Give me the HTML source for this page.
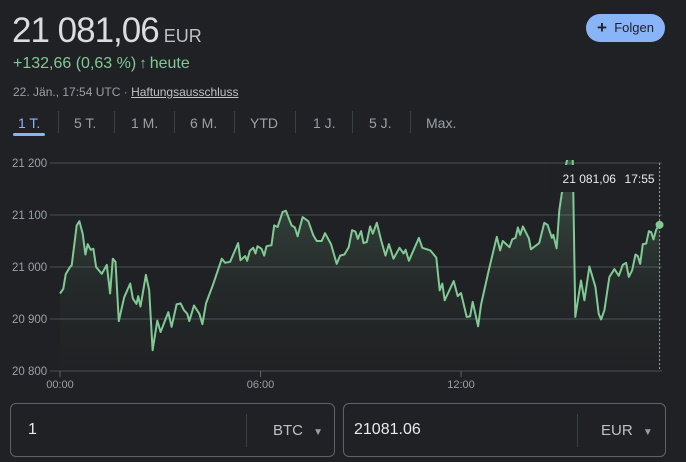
<!DOCTYPE html>
<html><head><meta charset="utf-8">
<style>
body{margin:0;width:686px;height:462px;background:#202124;overflow:hidden;font-family:"Liberation Sans",Arial,sans-serif;color:#bdc1c6;position:relative}
.abs{position:absolute}
.tab{position:absolute;top:115px;font-size:14px;color:#9aa0a6}
.sep{position:absolute;top:111px;width:1px;height:22px;background:#3c4043}
.box{position:absolute;top:403px;height:52px;border:1px solid #5f6368;border-radius:6px}
</style></head><body>
<div class="abs" style="left:12px;top:11px;font-size:35px;color:#dadce0;letter-spacing:-1px">21 081,06<span style="font-size:18px;color:#bdc1c6;margin-left:5px;letter-spacing:0">EUR</span></div>
<div class="abs" style="left:13px;top:55px;font-size:16px;color:#81c995">+132,66 (0,63 %)<span style="font-size:15px;margin:0 3px">↑</span>heute</div>
<div class="abs" style="left:13px;top:85px;font-size:12px;color:#9aa0a6">22. Jän., 17:54 UTC · <span style="text-decoration:underline;color:#bdc1c6">Haftungsausschluss</span></div>
<div class="abs" style="left:586px;top:14px;width:79px;height:28px;border-radius:14px;background:#8ab4f8;color:#202124;font-size:13px;line-height:28px;text-align:center"><b style="font-size:17px;vertical-align:-1px">+</b>&nbsp; Folgen</div>
<div class="tab" style="left:18px;color:#8ab4f8">1 T.</div>
<div class="abs" style="left:13px;top:133px;width:32px;height:3px;border-radius:2px;background:#8ab4f8"></div>
<div class="sep" style="left:58px"></div>
<div class="tab" style="left:74px">5 T.</div>
<div class="sep" style="left:114px"></div>
<div class="tab" style="left:131px">1 M.</div>
<div class="sep" style="left:174px"></div>
<div class="tab" style="left:190px">6 M.</div>
<div class="sep" style="left:234px"></div>
<div class="tab" style="left:250px">YTD</div>
<div class="sep" style="left:295px"></div>
<div class="tab" style="left:313px">1 J.</div>
<div class="sep" style="left:352px"></div>
<div class="tab" style="left:369px">5 J.</div>
<div class="sep" style="left:410px"></div>
<div class="tab" style="left:426px">Max.</div>

<svg class="abs" style="left:0;top:0" width="686" height="400" id="chart">
<defs><linearGradient id="g" x1="0" y1="0" x2="0" y2="1"><stop offset="0" stop-color="#81c995" stop-opacity="0.28"/><stop offset="0.6" stop-color="#81c995" stop-opacity="0.05"/><stop offset="1" stop-color="#81c995" stop-opacity="0"/></linearGradient>
<clipPath id="cp"><rect x="0" y="160" width="686" height="215"/></clipPath></defs>
<g id="grid"></g><g id="series" clip-path="url(#cp)"></g><g id="over"></g>
</svg>

<div class="box" style="left:10px;width:323px">
 <div class="abs" style="left:17px;top:17px;font-size:16px;color:#e8eaed">1</div>
 <div class="abs" style="left:235px;top:10px;width:1px;height:33px;background:#3c4043"></div>
 <div class="abs" style="left:262px;top:18px;font-size:15px;color:#bdc1c6">BTC <span style="font-size:10px;margin-left:6px;color:#9aa0a6">▼</span></div>
</div>
<div class="box" style="left:343px;width:321px">
 <div class="abs" style="left:10px;top:17px;font-size:16px;color:#e8eaed">21081.06</div>
 <div class="abs" style="left:233px;top:10px;width:1px;height:33px;background:#3c4043"></div>
 <div class="abs" style="left:257px;top:18px;font-size:15px;color:#bdc1c6">EUR <span style="font-size:10px;margin-left:6px;color:#9aa0a6">▼</span></div>
</div>

<script>
const hours=[0,0.1,0.17,0.3,0.35,0.5,0.58,0.68,0.76,0.83,0.92,1.0,1.08,1.25,1.4,1.5,1.58,1.66,1.76,1.92,2.1,2.18,2.29,2.34,2.41,2.57,2.67,2.77,2.91,3.01,3.24,3.34,3.49,3.61,3.71,3.81,3.87,4.01,4.17,4.26,4.37,4.59,4.84,4.94,5.09,5.33,5.4,5.54,5.6,5.68,5.78,5.85,5.91,6.03,6.11,6.18,6.33,6.41,6.51,6.66,6.76,6.93,7.03,7.11,7.26,7.43,7.58,7.68,7.83,7.93,8.11,8.28,8.38,8.51,8.64,8.74,8.84,8.91,9.01,9.08,9.18,9.28,9.36,9.48,9.61,9.74,9.84,9.98,10.16,10.28,10.34,10.44,10.74,10.84,11.08,11.26,11.36,11.44,11.51,11.78,11.9,12.0,12.17,12.27,12.35,12.51,12.6,12.83,13.07,13.17,13.25,13.45,13.53,13.63,13.7,13.77,13.85,14.03,14.09,14.34,14.49,14.59,14.72,14.76,14.86,14.94,15.14,15.2,15.34,15.42,15.59,15.69,15.84,16.02,16.12,16.19,16.29,16.44,16.59,16.72,16.84,16.94,17.02,17.12,17.22,17.29,17.36,17.44,17.54,17.62,17.69,17.76,17.84,17.94];
const prices=[20949,20958,20986,21000,21003,21080,21088,21064,21024,21044,21033,21035,21000,20987,21004,20949,21016,21010,20896,20942,20968,20939,20929,20944,20924,20985,20955,20840,20897,20875,20913,20885,20928,20930,20917,20910,20896,20926,20910,20890,20930,20968,21016,21008,21010,21046,21013,21021,21012,21031,21037,21026,21040,21035,21022,21040,21042,21080,21077,21106,21108,21080,21076,21059,21096,21088,21061,21050,21050,21065,21044,21006,21022,21024,21038,21071,21068,21054,21069,21046,21048,21078,21064,21085,21051,21022,21044,21016,21037,21026,21033,21012,21056,21037,21032,21018,20955,20968,20936,20973,20944,20950,20904,20905,20933,20886,20928,20994,21058,21032,21050,21038,21053,21056,21076,21062,21078,21055,21034,21046,21085,21081,21056,21062,21036,21109,21196,21215,21215,20904,20974,20936,21001,20962,20910,20899,20917,20981,20996,20983,21004,21008,20981,20994,21024,21021,21006,21044,21045,21069,21067,21053,21072,21081.06];
const yTicks=[20800,20900,21000,21100,21200];
const yTickLabels=["20 800","20 900","21 000","21 100","21 200"];
const xTicks=[0,6,12];
const xTickLabels=["00:00","06:00","12:00"];
const tipPrice="21 081,06";
const tipTime="17:55";

const X=h=>60+h*33.42;
const Y=v=>371-(v-20800)*0.52;
const NS="http://www.w3.org/2000/svg";
function mk(tag,attrs,parent){const e=document.createElementNS(NS,tag);for(const k in attrs)e.setAttribute(k,attrs[k]);parent.appendChild(e);return e;}
const grid=document.getElementById('grid'),ser=document.getElementById('series'),over=document.getElementById('over');
yTicks.forEach((v,i)=>{
 const l=mk('line',{x1:50,x2:662,y1:Y(v),y2:Y(v),stroke:'#3c4043','stroke-width':1.5},grid);
 
 
 const t=mk('text',{x:12,y:Y(v)+4,'font-size':11.5,fill:'#9aa0a6','font-family':'Liberation Sans, sans-serif'},grid);
 t.textContent=yTickLabels[i];
 
 
});
xTicks.forEach((h,i)=>{
 const l=mk('line',{x1:X(h),x2:X(h),y1:371,y2:377,stroke:'#5f6368'},grid);
 
 
 const t=mk('text',{x:X(h),y:388,'font-size':11,fill:'#9aa0a6','text-anchor':'middle','font-family':'Liberation Sans, sans-serif'},grid);
 t.textContent=xTickLabels[i];
 
 
});
const pts=hours.map((h,i)=>X(h).toFixed(1)+','+Y(prices[i]).toFixed(1));
const area=mk('path',{d:'M'+X(hours[0])+',371 L'+pts.join(' L')+' L'+X(hours[hours.length-1])+',371 Z',fill:'url(#g)'},ser);


const line=mk('polyline',{points:pts.join(' '),fill:'none',stroke:'#81c995','stroke-width':2,'stroke-linejoin':'round'},ser);


const lx=X(hours[hours.length-1]),ly=Y(prices[prices.length-1]);
const vl=mk('line',{x1:lx,x2:lx,y1:163,y2:371,stroke:'#9aa0a6','stroke-dasharray':'2,2'},over);


const r=mk('rect',{x:lx-108,y:165,width:106,height:27,fill:'#202124'},over);


const tt=mk('text',{x:lx-97,y:183,'font-size':12,fill:'#e8eaed','font-family':'Liberation Sans, sans-serif'},over);
tt.textContent=tipPrice;


const tm=mk('text',{x:lx-35,y:183,'font-size':12,fill:'#e8eaed','font-family':'Liberation Sans, sans-serif'},over);
tm.textContent=tipTime;


const dot=mk('circle',{cx:lx,cy:ly,r:4,fill:'#81c995'},over);


</script>
</body></html>
